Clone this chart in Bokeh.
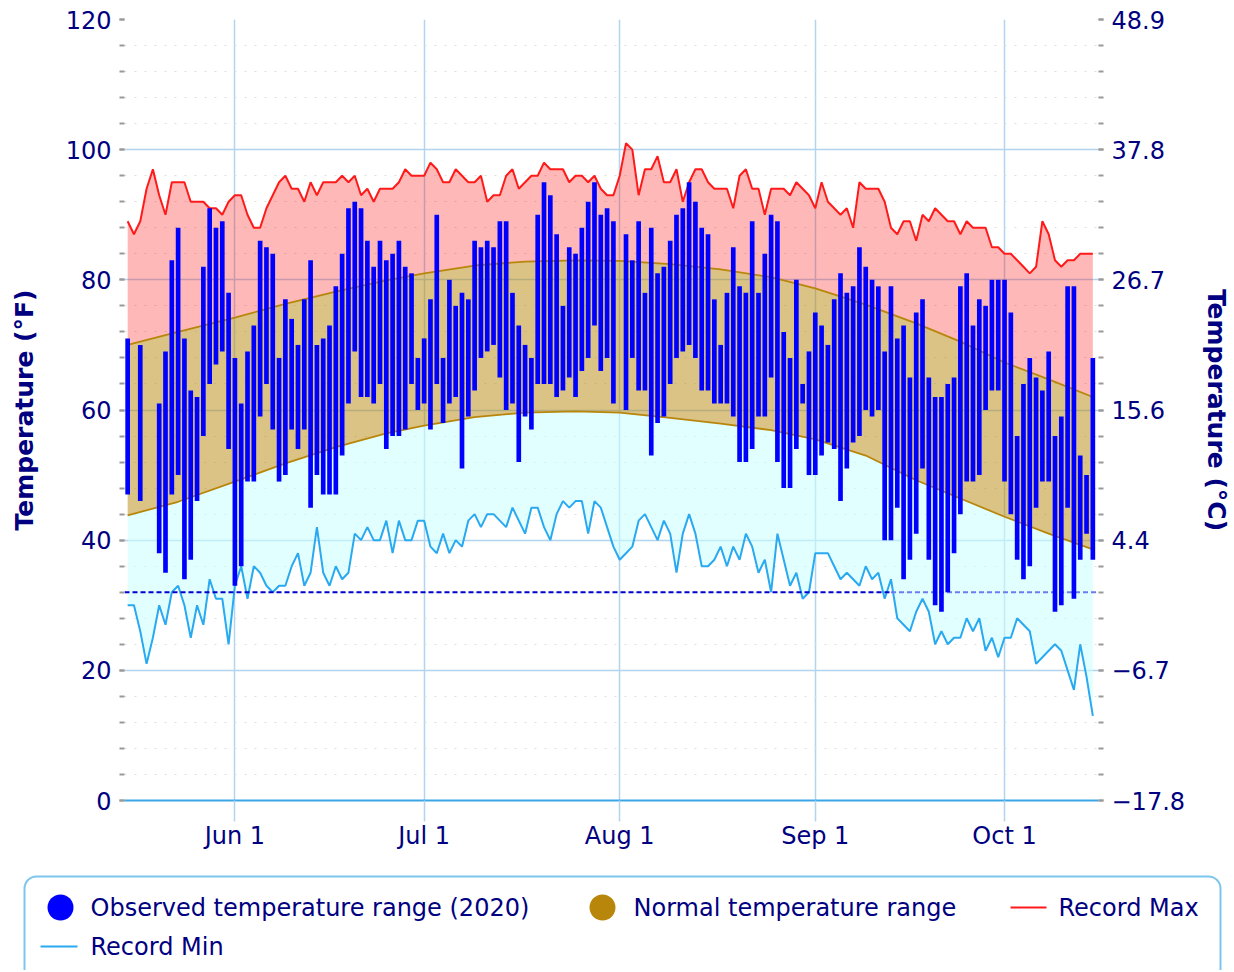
import numpy as np
import pandas as pd
from bokeh.plotting import figure
from bokeh.models import ColumnDataSource, Range1d, FixedTicker, LinearAxis
from bokeh.layouts import column
from bokeh.embed import file_html
from bokeh.resources import INLINE
from bokeh.core.properties import value

nan = float("nan")

# ---------------- data ----------------
start_date = "2020-05-15"

obs_high = [71, nan, 70, nan, nan, 61, 69, 83, 88, 71,
            63, 62, 82, 91, 88, 89, 78, 68, 61, 69,
            73, 86, 85, 84, 68, 77, 74, 70, 77, 83,
            70, 71, 73, 79, 84, 91, 92, 91, 86, 82,
            86, 83, 84, 86, 82, 81, 68, 71, 77, 90,
            68, 80, 76, 78, 77, 86, 85, 86, 85, 89,
            89, 78, 73, 70, 68, 90, 95, 93, 87, 76,
            85, 84, 88, 92, 95, 90, 91, 89, nan, 87,
            83, 89, 78, 88, 81, 82, 86, 90, 91, 95,
            92, 88, 87, 77, 70, 78, 85, 79, 78, 89,
            78, 84, 90, 89, 72, 68, 80, 64, 69, 75,
            73, 70, 77, 81, 78, 79, 85, 82, 80, 79,
            69, 79, 71, 73, 65, 75, 77, 65, 62, 62,
            64, 65, 79, 81, 73, 77, 76, 80, 80, 80,
            75, 56, 64, 68, 65, 63, 69, 56, 59, 79,
            79, 53, 50, 68]

obs_low = [47, nan, 46, nan, nan, 38, 35, 47, 50, 34,
           37, 46, 56, 64, 67, 69, 54, 33, 36, 49,
           49, 59, 64, 57, 49, 50, 57, 54, 57, 45,
           50, 47, 47, 47, 53, 61, 69, 62, 62, 61,
           64, 54, 56, 56, 57, 64, 60, 61, 57, 64,
           58, 61, 62, 51, 59, 63, 68, 69, 70, 65,
           60, 61, 52, 59, 57, 64, 64, 64, 62, 63,
           65, 62, 66, 68, 73, 66, 68, 61, nan, 60,
           68, 63, 63, 53, 58, 59, 64, 68, 69, 70,
           68, 63, 63, 61, 61, 61, 59, 52, 52, 54,
           59, 59, 65, 52, 48, 48, 54, 61, 50, 50,
           53, 55, 54, 46, 51, 55, 56, 60, 59, 60,
           40, 40, 45, 34, 37, 41, 51, 37, 30, 29,
           32, 38, 44, 49, 49, 50, 60, 63, 63, 49,
           44, 37, 34, 36, 45, 49, 49, 29, 30, 45,
           31, 37, 41, 37]

record_max = [89, 87, 89, 94, 97, 93, 90, 95, 95, 95,
              92, 92, 92, 91, 91, 90, 92, 93, 93, 90,
              88, 88, 91, 93, 95, 96, 94, 94, 92, 95,
              93, 95, 95, 95, 96, 95, 96, 93, 94, 92,
              94, 94, 94, 95, 97, 96, 96, 96, 98, 97,
              95, 95, 97, 96, 95, 95, 96, 92, 93, 93,
              96, 97, 94, 95, 96, 96, 98, 97, 97, 97,
              95, 96, 96, 95, 96, 94, 93, 93, 96, 101,
              100, 93, 97, 97, 99, 95, 95, 97, 92, 95,
              97, 97, 95, 94, 94, 94, 91, 96, 97, 94,
              94, 90, 94, 94, 94, 93, 95, 94, 93, 91,
              95, 92, 91, 90, 91, 88, 95, 94, 94, 94,
              92, 88, 87, 89, 89, 86, 90, 89, 91, 90,
              89, 89, 87, 89, 88, 88, 88, 85, 85, 84,
              84, 83, 82, 81, 82, 89, 87, 83, 82, 83,
              83, 84, 84, 84]

record_min = [30, 30, 26, 21, 25, 30, 27, 32, 33, 30,
              25, 30, 27, 34, 31, 31, 24, 33, 36, 31,
              36, 35, 33, 32, 33, 33, 36, 38, 33, 35,
              42, 35, 33, 36, 34, 35, 41, 40, 42, 40,
              40, 43, 38, 43, 40, 40, 43, 43, 39, 38,
              41, 38, 40, 39, 43, 44, 42, 44, 44, 43,
              42, 45, 43, 41, 45, 45, 42, 40, 44, 46,
              45, 46, 46, 41, 46, 45, 42, 39, 37, 38,
              39, 43, 44, 42, 40, 43, 41, 35, 41, 44,
              41, 36, 36, 37, 39, 36, 39, 37, 41, 39,
              35, 37, 32, 41, 37, 33, 35, 31, 32, 38,
              38, 38, 36, 34, 35, 34, 33, 36, 34, 35,
              31, 34, 28, 27, 26, 29, 31, 29, 24, 26,
              24, 25, 25, 28, 26, 28, 23, 25, 22, 25,
              25, 28, 27, 26, 21, 22, 23, 24, 23, 20,
              17, 24, 19, 13]

normal_dates = ["2020-05-15", "2020-05-23", "2020-06-01", "2020-06-09", "2020-06-17",
                "2020-06-25", "2020-07-01", "2020-07-09", "2020-07-17", "2020-07-25",
                "2020-08-01", "2020-08-09", "2020-08-17", "2020-08-25", "2020-09-01",
                "2020-09-09", "2020-09-17", "2020-09-24", "2020-10-01", "2020-10-08",
                "2020-10-15"]
normal_high = [70.0, 72.0, 74.2, 76.3, 78.2, 79.9, 81.0, 82.2, 82.8, 83.0,
               82.9, 82.4, 81.6, 80.4, 78.7, 76.2, 73.3, 70.5, 67.3, 64.7, 62.0]
normal_low = [43.8, 45.9, 49.0, 51.8, 54.3, 56.4, 57.6, 58.9, 59.6, 59.8,
              59.6, 58.8, 57.9, 56.9, 55.5, 53.0, 49.2, 46.4, 43.6, 41.0, 38.6]

month_ticks = ["2020-06-01", "2020-07-01", "2020-08-01", "2020-09-01", "2020-10-01"]
month_labels = ["Jun 1", "Jul 1", "Aug 1", "Sep 1", "Oct 1"]
f_ticks = [0, 20, 40, 60, 80, 100, 120]
c_tick_labels = ["\u221217.8", "\u22126.7", "4.4", "15.6", "26.7", "37.8", "48.9"]
freeze_temp = 32

legend_labels = ["Observed temperature range (2020)", "Normal temperature range",
                 "Record Max", "Record Min"]

# ---------------- helpers ----------------
DAY_MS = 86400000.0


def to_ms(d):
    return pd.to_datetime(pd.Series(d)).values.astype("datetime64[ms]").astype("int64").astype(float)


dates_ms = to_ms(pd.date_range(start_date, periods=len(obs_high), freq="D"))
normal_ms = to_ms(normal_dates)
month_ms = to_ms(month_ticks)

NAVY = "#000080"
GRID = "#b3d4ee"
FONT = "DejaVu Sans"
W = 1234

x_start = to_ms(["2020-05-14 12:00"])[0]
x_end = to_ms(["2020-10-15 21:30"])[0]
freeze_split = to_ms(["2020-09-13"])[0]

p = figure(width=W, height=868, x_axis_type="datetime",
           x_range=Range1d(x_start, x_end), y_range=Range1d(0, 120),
           toolbar_location=None, output_backend="svg",
           min_border_left=124, min_border_right=W - 1098, min_border_top=19, min_border_bottom=68)
p.frame_align = False
p.outline_line_color = None
p.background_fill_color = "white"
p.border_fill_color = "white"

# fills
pink_x = np.concatenate([dates_ms, normal_ms[::-1]])
pink_y = np.concatenate([np.array(record_max, float), np.array(normal_high, float)[::-1]])
p.patch(pink_x, pink_y, fill_color="#ff0000", fill_alpha=0.28, line_color=None)

cyan_x = np.concatenate([normal_ms, dates_ms[::-1]])
cyan_y = np.concatenate([np.array(normal_low, float), np.array(record_min, float)[::-1]])
p.patch(cyan_x, cyan_y, fill_color="#c8ffff", fill_alpha=0.55, line_color=None)

p.varea(x=normal_ms, y1=normal_low, y2=normal_high, fill_color="#b8860b", fill_alpha=0.5)
p.line(normal_ms, normal_high, line_color="#b8860b", line_width=1.8)
p.line(normal_ms, normal_low, line_color="#b8860b", line_width=1.8)

# lines
p.line(dates_ms, record_max, line_color="#ff1a1a", line_width=2)
p.line(dates_ms, record_min, line_color="#29a9f0", line_width=2)

# freezing line
p.segment(x0=[x_start], x1=[freeze_split], y0=[freeze_temp], y1=[freeze_temp],
          line_color="#0000cc", line_width=2, line_dash="5 3")
p.segment(x0=[freeze_split], x1=[x_end], y0=[freeze_temp], y1=[freeze_temp],
          line_color="#6b7cf0", line_width=2, line_dash="5 3")

# observed bars
src = ColumnDataSource(dict(x=dates_ms, top=obs_high, bottom=obs_low))
p.vbar(x="x", top="top", bottom="bottom", width=0.74 * DAY_MS, source=src,
       fill_color="#0000ff", line_color=None)

# grids
minor = [v for v in range(0, 121, 4) if v % 20 != 0]
p.xgrid.ticker = FixedTicker(ticks=list(month_ms))
p.xgrid.grid_line_color = GRID
p.xgrid.grid_line_width = 1.5
p.ygrid.ticker = FixedTicker(ticks=f_ticks, minor_ticks=minor)
p.ygrid.grid_line_color = GRID
p.ygrid.grid_line_width = 1.5
p.ygrid.minor_grid_line_color = "#dedede"
p.ygrid.minor_grid_line_dash = "2 8"

# x axis
xa = p.xaxis[0]
xa.ticker = FixedTicker(ticks=list(month_ms))
xa.major_label_overrides = {int(m): lab for m, lab in zip(month_ms, month_labels)}
xa.major_tick_line_color = GRID
xa.major_tick_line_width = 1.5
xa.major_tick_out = 21
xa.major_tick_in = 0
xa.minor_tick_line_color = None
xa.axis_line_color = "#3aa6e6"
xa.axis_line_width = 2
xa.major_label_text_font = FONT
xa.major_label_text_font_size = "24px"
xa.major_label_text_color = NAVY
xa.major_label_standoff = 0


def style_y(ax):
    ax.ticker = FixedTicker(ticks=f_ticks, minor_ticks=list(range(0, 121, 4)))
    ax.axis_line_color = None
    ax.major_tick_line_color = "#999999"
    ax.minor_tick_line_color = "#999999"
    ax.major_tick_line_width = 2
    ax.minor_tick_line_width = 2
    ax.major_tick_out = 5
    ax.major_tick_in = 0
    ax.minor_tick_out = 5
    ax.minor_tick_in = 0
    ax.major_label_text_font = FONT
    ax.major_label_text_font_size = "24px"
    ax.major_label_text_color = NAVY
    ax.major_label_standoff = 8
    ax.axis_label_text_font = FONT
    ax.axis_label_text_font_size = "25px"
    ax.axis_label_text_font_style = "bold"
    ax.axis_label_text_color = NAVY


ya = p.yaxis[0]
style_y(ya)
ya.axis_label = "Temperature (°F)"
ya.axis_label_standoff = 24

yr = LinearAxis()
style_y(yr)
yr.major_label_overrides = {f: c for f, c in zip(f_ticks, c_tick_labels)}
yr.axis_label = "Temperature (°C)"
yr.axis_label_standoff = 14
p.add_layout(yr, "right")

# ---------------- legend panel ----------------
lg = figure(width=W, height=102, x_range=Range1d(0, W), y_range=Range1d(970, 868),
            toolbar_location=None, output_backend="svg", min_border=0,
            x_axis_location=None, y_axis_location=None)
lg.frame_align = False
lg.grid.visible = False
lg.outline_line_color = None
lg.background_fill_color = "white"
lg.border_fill_color = "white"
lg.quad(left=[24], right=[1220], top=[876], bottom=[1000], border_radius=12,
        fill_color="white", line_color="#7cc6ee", line_width=2)
lg.scatter(x=[60, 602], y=[907, 907], size=26, marker="circle",
           fill_color=["#0000ff", "#b8860b"], line_color=None)
lg.segment(x0=[1010, 40], x1=[1046, 77], y0=[907, 946], y1=[907, 946],
           line_color=["#ff1a1a", "#29a9f0"], line_width=2)
lg.text(x=[90, 633, 1058, 90], y=[907, 907, 907, 946], text=legend_labels,
        text_font=value(FONT), text_font_size="24px", text_color=NAVY,
        text_baseline="middle", text_align="left")

layout = column(p, lg)
open("out.html", "w").write(file_html(layout, INLINE))
